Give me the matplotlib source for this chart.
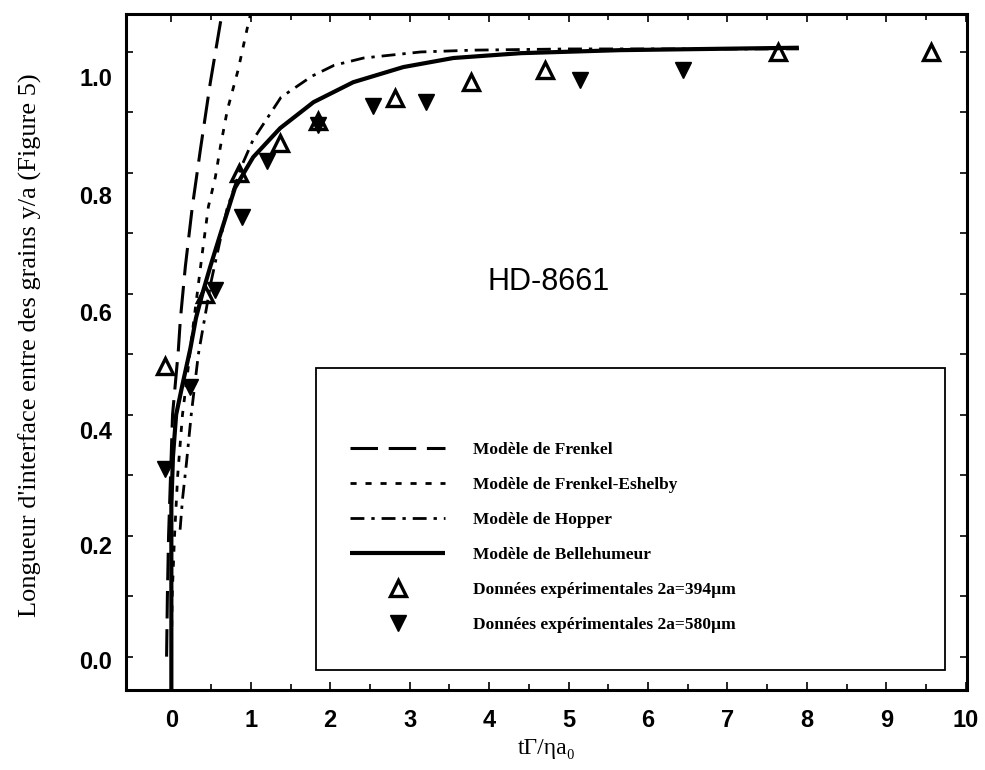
import matplotlib
matplotlib.use("Agg")
import matplotlib.pyplot as plt
from matplotlib.patches import Rectangle

# Model curves, values
frenkel_x = [-0.06, -0.05, -0.035, -0.01, 0.015, 0.088, 0.113, 0.176, 0.264, 0.365, 0.49, 0.617, 0.70]
frenkel_y = [0.0, 0.1, 0.2, 0.3, 0.40, 0.507, 0.557, 0.645, 0.744, 0.838, 0.949, 1.048, 1.10]

eshelby_x = [0.0, 0.01, 0.04, 0.08, 0.14, 0.214, 0.264, 0.327, 0.39, 0.466, 0.554, 0.617, 0.705, 0.84, 0.97, 1.03]
eshelby_y = [0.0, 0.1, 0.2, 0.3, 0.4, 0.48, 0.536, 0.602, 0.668, 0.744, 0.793, 0.843, 0.904, 0.97, 1.048, 1.08]

hopper_x = [0.11, 0.14, 0.19, 0.25, 0.34, 0.5, 0.7, 0.88, 1.03, 1.18, 1.38, 1.77, 2.05, 2.42, 3.14, 3.8, 5.0, 7.9]
hopper_y = [0.21, 0.26, 0.32, 0.40, 0.50, 0.62, 0.74, 0.81, 0.855, 0.885, 0.925, 0.96, 0.978, 0.99, 1.0, 1.003, 1.005, 1.005]

belle_x = [0.0, 0.0, 0.02, 0.06, 0.14, 0.24, 0.31, 0.39, 0.49, 0.62, 0.8, 1.03, 1.37, 1.79, 2.29, 2.92, 3.55, 4.4, 5.65, 7.9]
belle_y = [-0.06, 0.25, 0.33, 0.40, 0.45, 0.51, 0.56, 0.60, 0.645, 0.70, 0.775, 0.826, 0.874, 0.917, 0.95, 0.975, 0.99, 0.998, 1.003, 1.007]

# Experimental points
d394_x = [-0.08, 0.42, 0.85, 1.37, 1.85, 2.82, 3.77, 4.71, 7.64, 9.56]
d394_y = [0.48, 0.60, 0.80, 0.85, 0.885, 0.924, 0.95, 0.97, 1.0, 1.0]
d580_x = [-0.08, 0.24, 0.55, 0.89, 1.21, 1.85, 2.54, 3.2, 5.15, 6.44]
d580_y = [0.31, 0.446, 0.607, 0.727, 0.82, 0.88, 0.91, 0.917, 0.954, 0.97]

labels = ["Modèle de Frenkel", "Modèle de Frenkel-Eshelby", "Modèle de Hopper",
          "Modèle de Bellehumeur", "Données expérimentales 2a=394µm",
          "Données expérimentales 2a=580µm"]

xticks = list(range(0, 11))
ytick_labels = ["0.0", "0.2", "0.4", "0.6", "0.8", "1.0"]

fig = plt.figure(figsize=(9.85, 7.7), dpi=100)
ax = fig.add_axes([0.128, 0.104, 0.854, 0.878])

ax.plot(frenkel_x, frenkel_y, color="black", lw=2.2, dashes=(9, 3.5), label=labels[0])
ax.plot(eshelby_x, eshelby_y, color="black", lw=2.0, dashes=(2.2, 3.2), label=labels[1])
ax.plot(hopper_x, hopper_y, color="black", lw=2.0, dashes=(5, 2.5, 1.2, 2.5), label=labels[2])
ax.plot(belle_x, belle_y, color="black", lw=3.0, solid_capstyle="butt", label=labels[3])

ax.plot(d394_x, d394_y, ls="none", marker="^", ms=11, mfc="none", mec="black", mew=2.4,
        label=labels[4])
ax.plot(d580_x, d580_y, ls="none", marker="v", ms=11, mfc="black", mec="black", mew=1,
        label=labels[5])

ax.set_xlim(-0.57, 10.02)
ax.set_ylim(-0.055, 1.063)

ax.set_xticks(xticks)
ax.set_xticks([x + 0.5 for x in xticks[:-1]], minor=True)

# in the scan the y labels are printed a bit closer together than the tick marks
ax.set_yticks([-0.005, 0.185, 0.375, 0.57, 0.764, 0.959])
ax.set_yticklabels(ytick_labels)
ax.set_yticks([i / 10 for i in range(11)], minor=True)

ax.tick_params(which="both", direction="in", top=True, right=True, width=1.2)
ax.tick_params(axis="x", which="major", length=6, pad=14)
ax.tick_params(axis="x", which="minor", length=4)
ax.tick_params(axis="y", which="major", length=0, pad=10)
ax.tick_params(axis="y", which="minor", length=5)
for lab in ax.get_xticklabels() + ax.get_yticklabels():
    lab.set_fontfamily("Liberation Sans")
    lab.set_fontweight("bold")
    lab.set_fontsize(17)

for sp in ax.spines.values():
    sp.set_linewidth(2.2)

ax.set_xlabel("tΓ/ηa₀", family=["Liberation Serif", "DejaVu Serif"], fontsize=17, labelpad=4)
ax.set_ylabel("Longueur d'interface entre des grains y/a (Figure 5)",
              family=["Liberation Serif", "DejaVu Serif"], fontsize=19, labelpad=14)
ax.yaxis.set_label_coords(-0.1, 0.51)

ax.text(4.75, 0.62, "HD-8661", family="Liberation Sans", fontsize=22,
        ha="center", va="center")

# legend box drawn separately (it has a wide empty band at the top)
fig.patches.append(Rectangle((0.3208, 0.1299), 0.6386, 0.3922, transform=fig.transFigure,
                             fill=False, edgecolor="black", lw=1.3))

leg = ax.legend(loc="upper left", bbox_to_anchor=(350 / 985, 1 - 442 / 770),
                bbox_transform=fig.transFigure, frameon=False, borderpad=0,
                borderaxespad=0, handlelength=5.5, handletextpad=1.6,
                labelspacing=1.08, numpoints=1,
                prop={"family": "Liberation Serif", "weight": "bold", "size": 12.5})

fig.savefig("out.png", dpi=100)
